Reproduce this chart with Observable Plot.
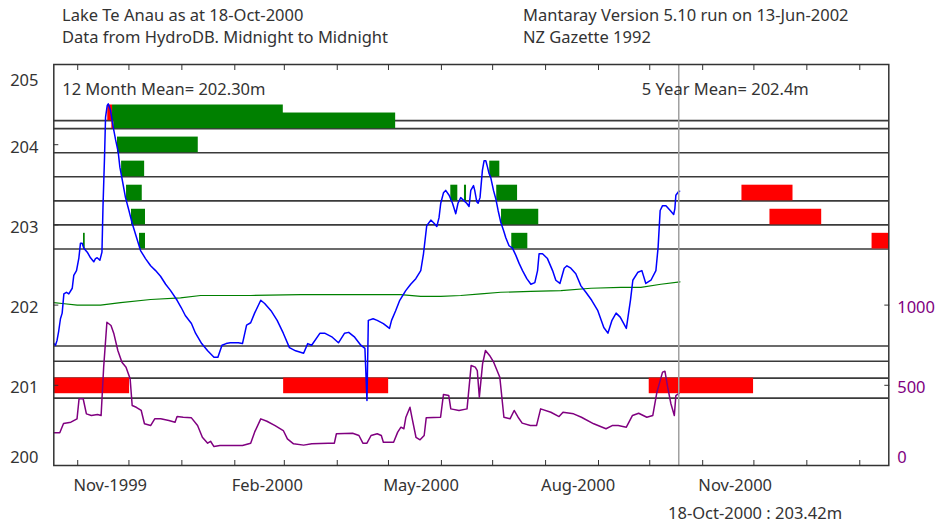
<!DOCTYPE html>
<html><head><meta charset="utf-8">
<script src="https://cdn.jsdelivr.net/npm/d3@7"></script>
<script src="https://cdn.jsdelivr.net/npm/@observablehq/plot@0.6"></script>
<style>
body{margin:0;background:#fff;}
#wrap{position:relative;width:936px;height:527px;font-family:"Noto Sans",sans-serif;color:#333;}
.t{position:absolute;font-size:16.5px;line-height:20px;white-space:nowrap;color:#333;}
#chart{position:absolute;left:0;top:0;}
</style></head><body>
<div id="wrap">
<div id="chart"></div>
<div class="t" style="left:62px;top:5px">Lake Te Anau as at 18-Oct-2000</div>
<div class="t" style="left:62px;top:27px">Data from HydroDB. Midnight to Midnight</div>
<div class="t" style="left:523px;top:5px">Mantaray Version 5.10 run on 13-Jun-2002</div>
<div class="t" style="left:523px;top:27px">NZ Gazette 1992</div>
<div class="t" id="cap" style="left:668px;top:503px"></div>
</div>
<script>
// ---- data ----
const startDate = "1999-10-18";      // first day on the x axis (day 0)
const endDay = 489;                   // 18-Feb-2001
const todayDay = 366;                 // 18-Oct-2000
const mean12 = 202.30;
const mean5 = 202.4;
const currentLevel = 203.42;

// lake level (m), days since startDate
const levelDays = [0,1.0,1.9,2.9,3.9,4.9,5.9,7.4,8.8,10.8,11.7,13.3,14.7,15.6,16.6,17.6,19.6,21.5,23.4,24.4,25.4,27.0,28.2,28.8,29.7,30.3,31.3,31.9,33.2,34.8,36.2,37.7,38.7,40.1,42.0,44.0,45.9,48.5,50.8,53.7,56.7,59.6,62.5,65.5,68.4,72.2,74.6,77.0,80.6,83.0,86.6,90.1,93.8,96.1,98.5,100.9,103.3,108.1,110.5,112.9,115.3,117.6,121.2,123.5,127.2,130.8,134.4,138.0,141.6,146.3,148.7,151.0,155.9,158.6,163.1,166.7,170.3,172.7,176.2,179.8,182.2,183.4,184.2,187.0,189.4,193.0,196.6,197.8,200.2,202.6,206.1,209.0,212.0,214.9,216.5,218.4,220.8,222.7,224.3,225.6,226.6,228.2,229.5,231.5,233.5,235.4,236.7,238.3,240.3,241.8,243.2,244.2,245.8,246.5,247.7,248.5,249.6,251.0,252.0,253.0,254.0,254.9,255.9,257.5,258.8,260.2,261.8,263.4,264.7,266.6,268.6,270.6,272.5,274.5,277.0,279.4,281.7,283.3,284.2,286.2,289.1,292.1,294.0,296.4,298.9,300.5,302.8,305.7,308.7,311.6,315.0,318.6,322.1,324.5,326.9,329.3,331.7,335.3,336.6,337.7,339.1,342.1,344.4,346.7,349.7,352.6,353.9,355.1,356.5,358.5,361.0,363.0,363.7,364.3,365.7,366.5];
const levelValues = [201.52,201.50,201.56,201.68,201.83,201.90,202.14,202.16,202.14,202.21,202.37,202.43,202.59,202.77,202.77,202.71,202.66,202.59,202.54,202.58,202.59,202.56,202.66,203.22,203.84,204.34,204.49,204.51,204.43,204.22,204.06,203.91,203.72,203.56,203.34,203.18,203.02,202.84,202.68,202.58,202.49,202.43,202.36,202.26,202.18,202.06,201.97,201.87,201.77,201.65,201.52,201.43,201.35,201.35,201.50,201.52,201.53,201.53,201.52,201.75,201.78,201.90,202.06,202.02,201.93,201.81,201.65,201.47,201.43,201.40,201.52,201.50,201.65,201.65,201.60,201.53,201.65,201.66,201.60,201.50,201.46,200.81,201.81,201.83,201.81,201.77,201.71,201.81,201.93,202.06,202.18,202.26,202.33,202.43,202.64,202.99,203.06,203.02,202.98,203.09,203.27,203.40,203.43,203.37,203.27,203.14,203.27,203.34,203.30,203.27,203.23,203.43,203.49,203.43,203.29,203.27,203.34,203.68,203.80,203.80,203.72,203.64,203.59,203.43,203.33,203.18,203.03,202.93,202.84,202.74,202.71,202.62,202.52,202.43,202.33,202.26,202.28,202.43,202.64,202.64,202.58,202.43,202.31,202.27,202.46,202.49,202.46,202.39,202.24,202.16,202.06,201.93,201.72,201.65,201.81,201.90,201.85,201.71,201.90,202.06,202.31,202.41,202.43,202.27,202.31,202.43,202.72,203.18,203.24,203.24,203.18,203.13,203.20,203.37,203.41,203.42];

// 5 year mean daily level (m)
const meanDays = [0,4.9,13.7,27.4,39.1,56.7,74.2,86.0,115.3,144.6,173.9,203.2,214.9,226.6,238.3,250.1,261.8,279.4,297.0,314.6,332.1,343.8,355.5,366.7];
const meanValues = [202.03,202.02,202.00,202.00,202.03,202.07,202.09,202.12,202.12,202.13,202.13,202.13,202.11,202.11,202.12,202.14,202.16,202.17,202.18,202.21,202.22,202.22,202.26,202.29];

// flow (right axis)
const flowDays = [0,3.5,5.7,10.0,13.6,14.8,17.2,19.1,22.0,25.6,27.7,29.2,31.1,33.5,35.2,37.5,39.9,42.3,44.7,45.9,48.3,51.2,53.1,56.7,59.1,62.6,67.4,71.0,72.2,75.8,80.6,84.2,87.0,90.1,91.8,93.8,97.3,110.5,115.3,117.6,121.2,124.8,129.6,134.4,136.8,140.4,146.3,151.1,160.7,164.3,165.5,175.0,178.7,181.0,183.4,185.8,189.4,191.8,193.0,199.0,201.4,203.3,205.0,206.2,208.6,209.7,212.1,214.5,216.9,218.1,226.5,228.2,231.3,232.5,237.3,242.0,244.4,246.8,248.0,249.2,251.1,252.8,255.2,257.6,261.2,263.6,267.2,269.6,271.9,274.3,279.1,282.7,285.1,291.1,295.9,298.2,304.4,309.0,316.2,323.4,327.0,330.5,335.3,338.9,342.5,347.3,350.8,353.2,356.5,357.9,359.5,361.4,363.4,364.3,366.3];
const flowValues = [204,204,262,270,291,416,416,322,312,318,312,613,893,873,821,717,644,613,541,374,363,343,260,249,291,291,281,270,305,301,297,249,176,139,151,118,125,125,139,208,291,276,249,218,166,135,127,135,139,139,198,201,187,139,139,187,198,187,145,145,208,239,229,301,363,301,176,160,187,297,301,443,436,353,343,353,623,613,592,426,634,717,686,644,550,301,291,343,301,264,249,249,353,332,305,332,322,301,260,229,249,249,239,312,326,301,312,457,582,588,488,385,312,436,451];

// reference levels (horizontal lines)
const upperLevels = [204.3,204.2,203.9,203.6,203.3,203.0,202.7];
const lowerLevels = [201.49,201.3,201.09,200.84];

// duration bars: level, start day, end day, side, kind
const barLevel = [204.3,204.2,201.09,201.09,201.09,203.3,203.0,202.7, 204.3,204.2,203.9,203.6,203.3,203.0,202.7,202.7,203.6,203.3,203.3,203.3,203.0,202.7];
const barStart = [31.6,34.0,0,134.6,348.7,403.0,419.4,479.2, 34.4,35.2,37.3,39.7,42.6,45.5,50.2,17.4,255.3,259.4,232.5,240.5,262.2,268.2];
const barEnd   = [34.4,35.2,44.4,196.1,409.8,432.9,449.7,489.3, 134.4,200.2,84.6,53.2,51.8,53.7,53.7,18.4,261.2,271.6,236.6,241.7,284.0,277.6];
const barSide  = ["above","above","below","below","below","above","above","above", "above","above","above","above","above","above","above","above","above","above","above","above","above","above"];
const barKind  = ["alert","alert","alert","alert","alert","alert","alert","alert", "ok","ok","ok","ok","ok","ok","ok","ok","ok","ok","ok","ok","ok","ok"];

// axis labels
const yLabels = [200,201,202,203,204,205];
const flowLabels = [0,500,1000];
const xLabelMonths = ["1999-11-01","2000-02-01","2000-05-01","2000-08-01","2000-11-01"];

// ---- build ----
const t0 = d3.utcParse("%Y-%m-%d")(startDate);
const toDate = d => new Date(+t0 + d * 864e5);
const flowToLevel = f => 200 + f / 500;   // right axis: 0..2500 aligned with 200..205
const barH = 0.195;

const level = levelDays.map((d, i) => ({date: toDate(d), v: levelValues[i]}));
const mean = meanDays.map((d, i) => ({date: toDate(d), v: meanValues[i]}));
const flow = flowDays.map((d, i) => ({date: toDate(d), v: flowToLevel(flowValues[i])}));
const bars = barLevel.map((l, i) => ({
  x1: toDate(barStart[i]), x2: toDate(barEnd[i]),
  y1: l, y2: barSide[i] === "above" ? l + barH : l - barH, kind: barKind[i]
}));
const xLabels = xLabelMonths.map(s => d3.utcParse("%Y-%m-%d")(s));
const today = toDate(todayDay);

const txt = "#333";
const purple = "#800080";
const fs = 16.5;

const chart = Plot.plot({
  width: 936, height: 527,
  marginLeft: 53.3, marginRight: 47.7, marginTop: 64, marginBottom: 62,
  style: {fontFamily: "'Noto Sans', sans-serif", fontSize: fs + "px", color: txt, background: "white", overflow: "visible"},
  x: {type: "utc", domain: [toDate(0), toDate(endDay)]},
  y: {domain: [200, 205]},
  color: {domain: ["alert", "ok"], range: ["#ff0000", "#008000"]},
  marks: [
    Plot.ruleY(upperLevels.concat(lowerLevels), {stroke: "#3a3a3a", strokeWidth: 1.6}),
    Plot.rect(bars.filter(b => b.kind === "alert"), {x1: "x1", x2: "x2", y1: "y1", y2: "y2", fill: "kind"}),
    Plot.rect(bars.filter(b => b.kind === "ok"), {x1: "x1", x2: "x2", y1: "y1", y2: "y2", fill: "kind"}),
    Plot.line(mean, {x: "date", y: "v", stroke: "#008000", strokeWidth: 1.2}),
    Plot.line(flow, {x: "date", y: "v", stroke: purple, strokeWidth: 1.5}),
    Plot.line(level, {x: "date", y: "v", stroke: "#0000ff", strokeWidth: 1.5}),
    Plot.ruleX([today], {stroke: "#a0a0a0", strokeWidth: 1.5}),
    Plot.frame({stroke: "#333", strokeWidth: 1.5}),
    // month ticks, inward, top and bottom
    Plot.axisX({anchor: "bottom", ticks: d3.utcMonth.every(1), tickSize: 5, dy: -5, fill: "none", stroke: txt, label: null}),
    Plot.axisX({anchor: "top", ticks: d3.utcMonth.every(1), tickSize: 5, dy: 5, fill: "none", stroke: txt, label: null}),
    Plot.axisX(xLabels, {anchor: "bottom", tickSize: 0, tickPadding: 13.3, dx: 32.5, tickFormat: d3.utcFormat("%b-%Y"), fill: txt, fontSize: fs, label: null}),
    // y ticks inward
    Plot.axisY([201, 202, 203, 204], {anchor: "left", tickSize: 5, dx: 5, fill: "none", stroke: txt, label: null}),
    Plot.axisY(flowLabels.filter(f => f > 0).map(flowToLevel), {anchor: "right", tickSize: 5, dx: -5, fill: "none", stroke: txt, label: null}),
    // left labels
    Plot.text(yLabels.filter(v => v > 200 && v < 205), {y: d => d, text: d => String(d), frameAnchor: "left", textAnchor: "end", lineAnchor: "bottom", dx: -15.3, dy: 8, fill: txt, fontSize: fs}),
    Plot.text(yLabels.filter(v => v === 205), {y: d => d, text: d => String(d), frameAnchor: "left", textAnchor: "end", lineAnchor: "bottom", dx: -15.3, dy: 21, fill: txt, fontSize: fs}),
    Plot.text(yLabels.filter(v => v === 200), {y: d => d, text: d => String(d), frameAnchor: "left", textAnchor: "end", lineAnchor: "bottom", dx: -15.3, dy: -3, fill: txt, fontSize: fs}),
    // right labels
    Plot.text(flowLabels.filter(v => v > 0), {y: d => flowToLevel(d), text: d => String(d), frameAnchor: "right", textAnchor: "start", lineAnchor: "bottom", dx: 8.4, dy: 8, fill: purple, fontSize: fs}),
    Plot.text(flowLabels.filter(v => v === 0), {y: d => flowToLevel(d), text: d => String(d), frameAnchor: "right", textAnchor: "start", lineAnchor: "bottom", dx: 8.4, dy: -3, fill: purple, fontSize: fs}),
    // annotations
    Plot.text([`12 Month Mean= ${mean12.toFixed(2)}m`], {frameAnchor: "top-left", textAnchor: "start", lineAnchor: "bottom", dx: 8.4, dy: 30, fill: txt, fontSize: fs}),
    Plot.text([`5 Year Mean= ${mean5.toFixed(1)}m`], {frameAnchor: "top-right", textAnchor: "end", lineAnchor: "bottom", dx: -80, dy: 30, fill: txt, fontSize: fs})
  ]
});
document.getElementById("chart").appendChild(chart);
document.getElementById("cap").textContent = `${d3.utcFormat("%d-%b-%Y")(today)} : ${currentLevel.toFixed(2)}m`;
</script>
</body></html>
